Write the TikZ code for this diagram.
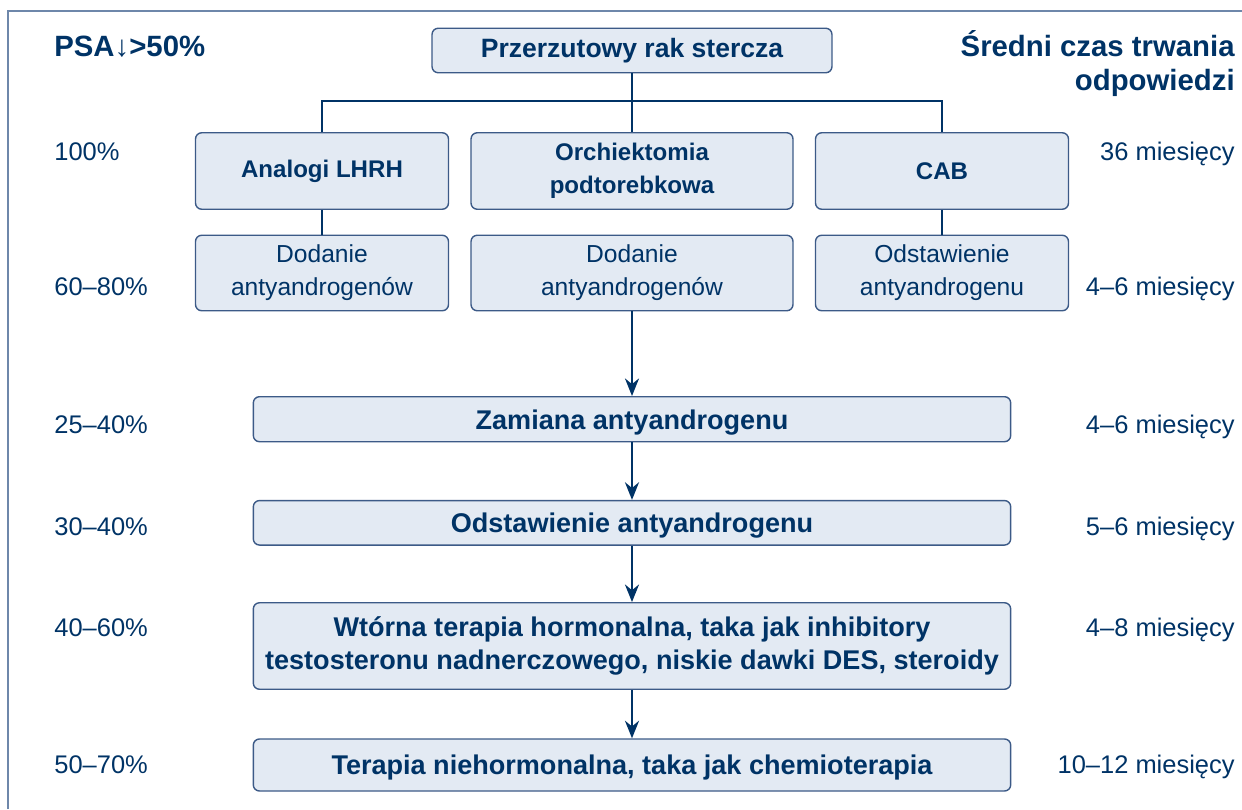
\documentclass[tikz,border=0pt]{standalone}
\usepackage{fontspec}
\setmainfont{Liberation Sans}
\usetikzlibrary{positioning,calc}
\usetikzlibrary{arrows.meta}
\definecolor{PsaNavy}{RGB}{0,51,102}
\definecolor{PsaFill}{RGB}{227,234,243}
\definecolor{PsaEdge}{RGB}{60,90,135}
\definecolor{PsaFrame}{RGB}{110,135,170}
\tikzset{stage/.style={draw=PsaEdge,fill=PsaFill,line width=0.8pt,rounded corners=3.5pt,text=PsaNavy,align=center,inner sep=0pt}, hdr/.style={text=PsaNavy,inner sep=0pt,font=\bfseries\fontsize{16.7}{20}\selectfont}, val/.style={text=PsaNavy,inner sep=0pt,font=\fontsize{14.5}{17}\selectfont}, therapy/.style={stage,minimum width=5.06cm,minimum height=1.53cm,font=\bfseries\fontsize{13.7}{18.8}\selectfont}, addon/.style={stage,minimum width=5.06cm,minimum height=1.51cm,font=\fontsize{14}{18.9}\selectfont}, wide/.style={stage,minimum width=15.15cm,font=\bfseries\fontsize{15.4}{18.9}\selectfont}, flat/.style={text depth=0pt}, link/.style={draw=PsaNavy,line width=1.3pt}, flow/.style={link,-{Stealth[length=10pt,width=8pt]}}}

\begin{document}
\begin{tikzpicture}[x=0.02cm,y=-0.02cm]
\useasboundingbox (0,0) rectangle (1242,809);
\draw[draw=PsaFrame,line width=1.1pt] (8,809) -- (8,11) -- (1242,11);
% headings
\node[hdr,anchor=base west] (psa) at (54,56.7) {PSA↓>50\%};
\node[hdr,anchor=base east] (czas) at (1235,56.7) {Średni czas trwania};
\node[hdr,anchor=base east] (odp) at (1235,90.7) {odpowiedzi};
% boxes
\node[stage,minimum width=8cm,minimum height=0.89cm,font=\bfseries\fontsize{15.1}{18}\selectfont] (rak) at (632,50.5) {Przerzutowy rak stercza};
\node[therapy] (lhrh) at (322,171) {Analogi LHRH};
\node[therapy,minimum width=6.44cm] (orch) at (632,171) {Orchiektomia\\podtorebkowa};
\node[therapy] (cab) at (942,171) {CAB};
\node[addon] (doda) at (322,273) {Dodanie\\antyandrogenów};
\node[addon,minimum width=6.44cm] (dodb) at (632,273) {Dodanie\\antyandrogenów};
\node[addon] (odst) at (942,273) {Odstawienie\\antyandrogenu};
\node[wide,flat,minimum height=0.9cm] (zam) at (632,419.2) {Zamiana antyandrogenu};
\node[wide,flat,minimum height=0.89cm] (ods) at (632,522.8) {Odstawienie antyandrogenu};
\node[wide,minimum height=1.73cm] (wto) at (632,646) {Wtórna terapia hormonalna, taka jak inhibitory\\testosteronu nadnerczowego, niskie dawki DES, steroidy};
\node[wide,flat,minimum height=1.04cm] (ter) at (632,765) {Terapia niehormonalna, taka jak chemioterapia};
% response rates
\node[val,anchor=base west] (r1) at (54,160) {100\%};
\node[val,anchor=base west] (r2) at (54,295) {60–80\%};
\node[val,anchor=base west] (r3) at (54,433) {25–40\%};
\node[val,anchor=base west] (r4) at (54,535.5) {30–40\%};
\node[val,anchor=base west] (r5) at (54,636.7) {40–60\%};
\node[val,anchor=base west] (r6) at (54,773.3) {50–70\%};
% durations
\node[val,anchor=base east] (t1) at (1235,160) {36 miesięcy};
\node[val,anchor=base east] (t2) at (1235,295) {4–6 miesięcy};
\node[val,anchor=base east] (t3) at (1235,433) {4–6 miesięcy};
\node[val,anchor=base east] (t4) at (1235,535.5) {5–6 miesięcy};
\node[val,anchor=base east] (t5) at (1235,636.7) {4–8 miesięcy};
\node[val,anchor=base east] (t6) at (1235,773.3) {10–12 miesięcy};
% connectors
\draw[link] (rak.south) -- (orch.north);
\draw[link] (lhrh.north) -- ++(0,-31) -| (cab.north);
\draw[link] (lhrh.south) -- (doda.north);
\draw[link] (cab.south) -- (odst.north);
\draw[flow] (dodb.south) -- (zam.north);
\draw[flow] (zam.south) -- (ods.north);
\draw[flow] (ods.south) -- (wto.north);
\draw[flow] (wto.south) -- (ter.north);
\end{tikzpicture}
\end{document}
